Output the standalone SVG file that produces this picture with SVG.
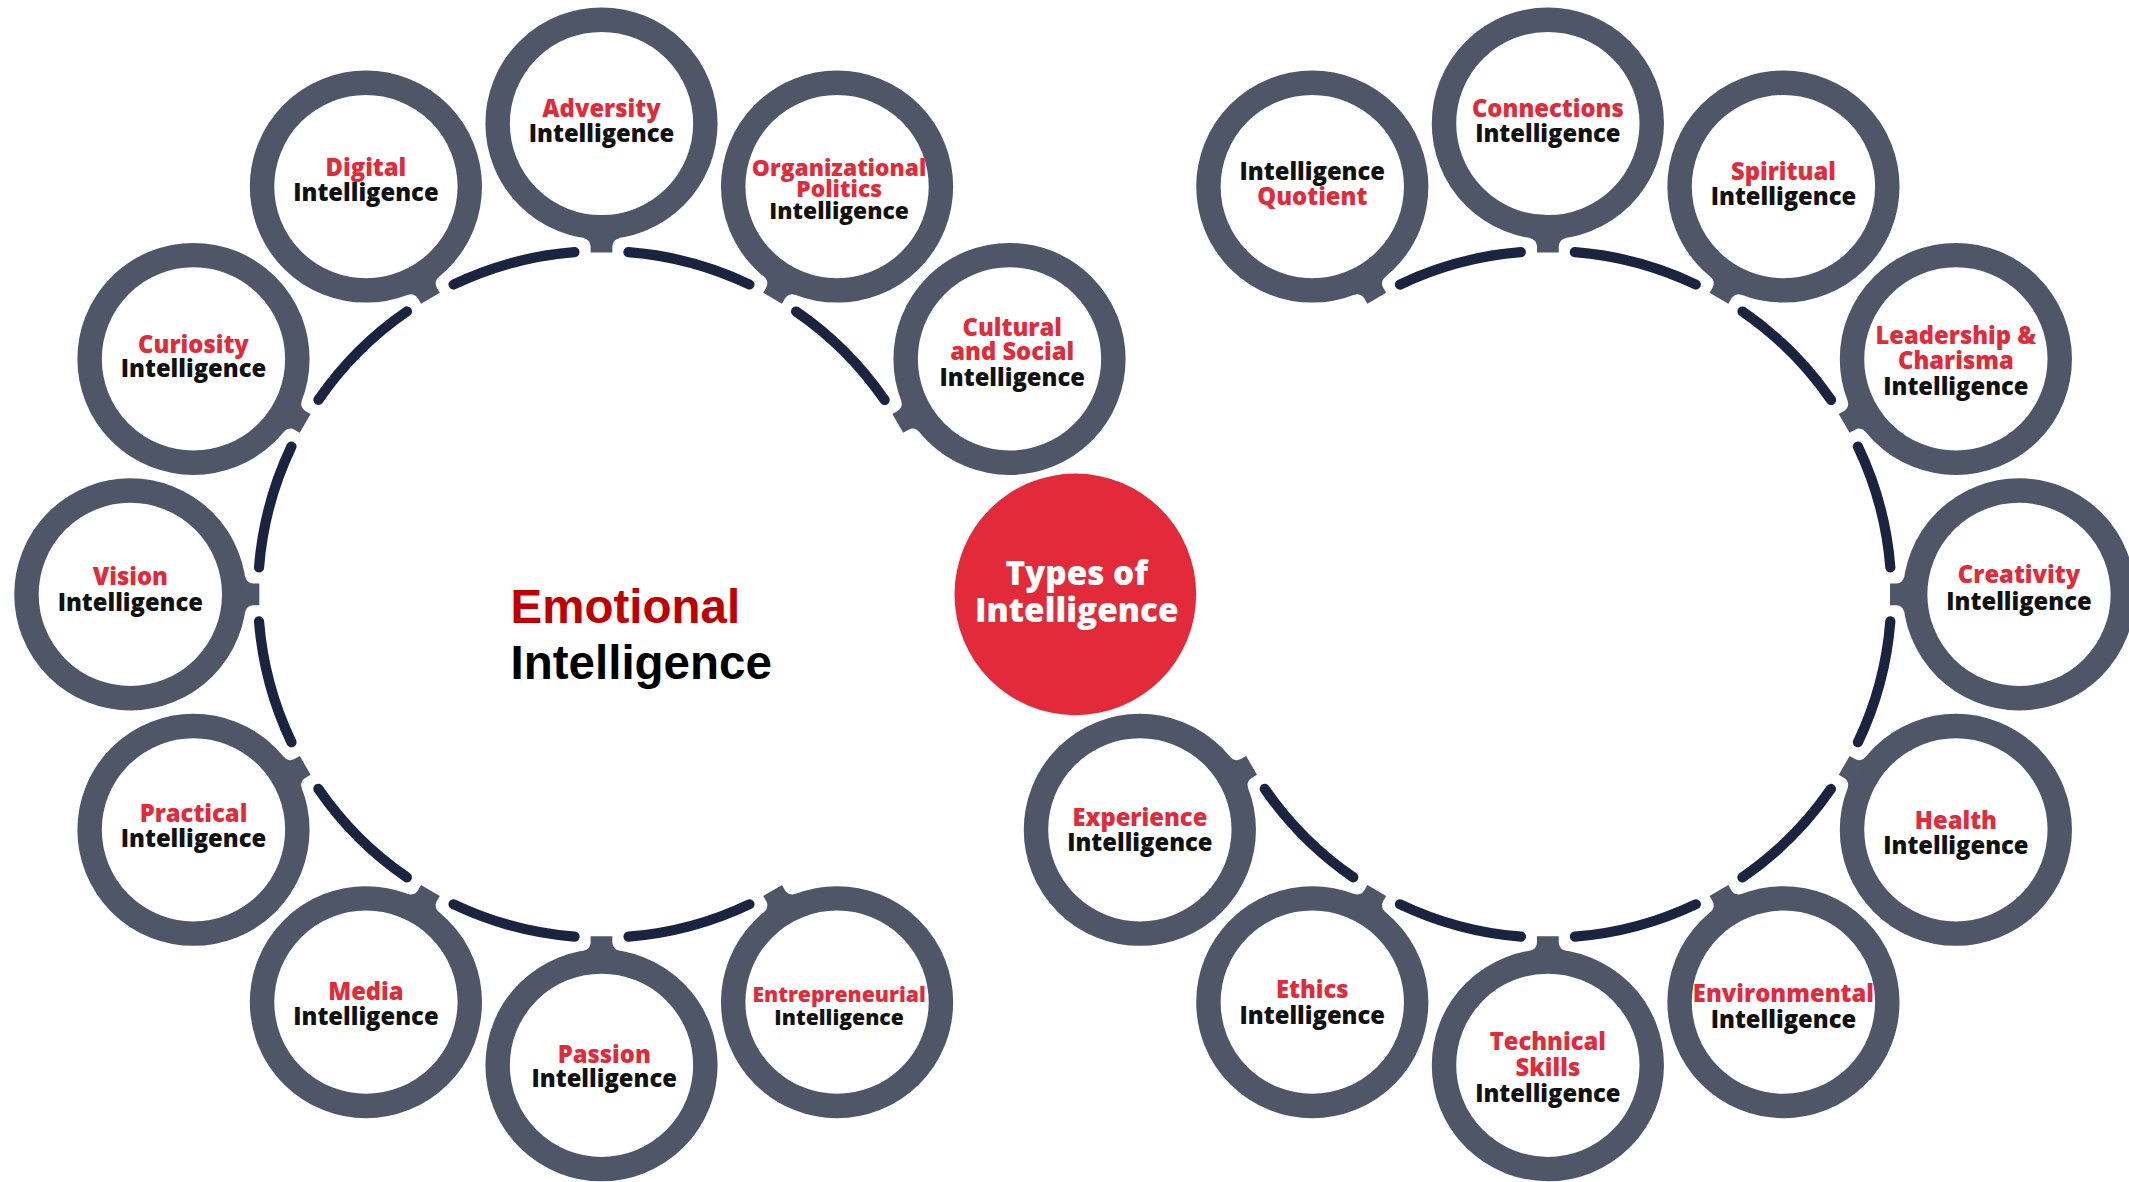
<svg xmlns="http://www.w3.org/2000/svg" xmlns:xlink="http://www.w3.org/1999/xlink" width="2129" height="1182" viewBox="0 0 2129 1182">
<style>
.ring{fill:#fff;stroke:#4e5668;stroke-width:18}
.tab{fill:#4e5668}
.arc{fill:none;stroke:#1a2440;stroke-width:7.5;stroke-linecap:round;stroke-dasharray:21 9;stroke-dashoffset:-4.5}
.t{font-family:'Open Sans','Noto Sans',sans-serif;font-weight:800;font-size:17.5px;text-anchor:middle}
.s{font-size:16.8px}
.xs{font-size:15.6px}
.r{fill:#e12a3a}
.k{fill:#111}
.big{font-family:'Liberation Sans',Arial,sans-serif;font-weight:700;font-size:35px}
</style>
<defs>
<path id="tab" class="tab" d="M84.5,-13.1 A6 6 0 0 0 90.4,-8 L95,-8 L95,8 L90.4,8 A6 6 0 0 0 84.5,13.1 L80,0 Z"/>
</defs>
<rect width="2129" height="1182" fill="#fff"/>
<g transform="scale(1.35778 1.35706)">
<g id="connectors">
<path class="arc" pathLength="270" d="M662.1,311.5 A253 253 0 1 0 569.5,657.1"/>
<path class="arc" pathLength="270" d="M920.9,564.5 A253 253 0 1 0 1013.5,218.9"/>
</g>
<g id="center">
<circle cx="792" cy="438" r="89" fill="#e32a3a"/>
<text class="t" x="793" y="431" fill="#fff" style="font-size:24.5px">Types of</text>
<text class="t" x="793" y="458" fill="#fff" style="font-size:24.5px">Intelligence</text>
</g>
<g id="title">
<text class="big" x="376" y="459" fill="#c00000">Emotional</text>
<text class="big" x="376" y="500" fill="#000">Intelligence</text>
</g>
<!-- left cluster -->
<g id="n-cultural" transform="translate(743.5,264.5)"><circle class="ring" r="76.5"/><use xlink:href="#tab" transform="rotate(150)"/>
<text class="t r" x="2" y="-17">Cultural</text><text class="t r" x="2" y="1">and Social</text><text class="t k" x="2" y="20.2">Intelligence</text></g>
<g id="n-org" transform="translate(616.5,137.5)"><circle class="ring" r="76.5"/><use xlink:href="#tab" transform="rotate(120)"/>
<text class="t r s" x="1.5" y="-7.9">Organizational</text><text class="t r s" x="1.5" y="7.7">Politics</text><text class="t k s" x="1.5" y="23.7">Intelligence</text></g>
<g id="n-adversity" transform="translate(443,91)"><circle class="ring" r="76.5"/><use xlink:href="#tab" transform="rotate(90)"/>
<text class="t r" y="-5">Adversity</text><text class="t k" y="13.8">Intelligence</text></g>
<g id="n-digital" transform="translate(269.5,137.5)"><circle class="ring" r="76.5"/><use xlink:href="#tab" transform="rotate(60)"/>
<text class="t r" y="-7.9">Digital</text><text class="t k" y="10.5">Intelligence</text></g>
<g id="n-curiosity" transform="translate(142.5,264.5)"><circle class="ring" r="76.5"/><use xlink:href="#tab" transform="rotate(30)"/>
<text class="t r" y="-4.7">Curiosity</text><text class="t k" y="13.1">Intelligence</text></g>
<g id="n-vision" transform="translate(96,438)"><circle class="ring" r="76.5"/><use xlink:href="#tab"/>
<text class="t r" y="-7.2">Vision</text><text class="t k" y="12.5">Intelligence</text></g>
<g id="n-practical" transform="translate(142.5,611.5)"><circle class="ring" r="76.5"/><use xlink:href="#tab" transform="rotate(-30)"/>
<text class="t r" y="-5.6">Practical</text><text class="t k" y="12.8">Intelligence</text></g>
<g id="n-media" transform="translate(269.5,738.5)"><circle class="ring" r="76.5"/><use xlink:href="#tab" transform="rotate(-60)"/>
<text class="t r" y="-1.7">Media</text><text class="t k" y="16.5">Intelligence</text></g>
<g id="n-passion" transform="translate(443,785)"><circle class="ring" r="76.5"/><use xlink:href="#tab" transform="rotate(-90)"/>
<text class="t r" x="2" y="-2">Passion</text><text class="t k" x="2" y="16">Intelligence</text></g>
<g id="n-entrepreneurial" transform="translate(616.5,738.5)"><circle class="ring" r="76.5"/><use xlink:href="#tab" transform="rotate(-120)"/>
<text class="t r xs" x="1.5" y="-0.3">Entrepreneurial</text><text class="t k xs" x="1.5" y="16.6">Intelligence</text></g>
<!-- right cluster -->
<g id="n-iq" transform="translate(966.5,137.5)"><circle class="ring" r="76.5"/><use xlink:href="#tab" transform="rotate(60)"/>
<text class="t k" y="-5">Intelligence</text><text class="t r" y="13.3">Quotient</text></g>
<g id="n-connections" transform="translate(1140,91)"><circle class="ring" r="76.5"/><use xlink:href="#tab" transform="rotate(90)"/>
<text class="t r" y="-5">Connections</text><text class="t k" y="13.8">Intelligence</text></g>
<g id="n-spiritual" transform="translate(1313.5,137.5)"><circle class="ring" r="76.5"/><use xlink:href="#tab" transform="rotate(120)"/>
<text class="t r" y="-5">Spiritual</text><text class="t k" y="13.9">Intelligence</text></g>
<g id="n-leadership" transform="translate(1440.5,264.5)"><circle class="ring" r="76.5"/><use xlink:href="#tab" transform="rotate(150)"/>
<text class="t r" y="-10.8">Leadership &amp;</text><text class="t r" y="7.5">Charisma</text><text class="t k" y="26.7">Intelligence</text></g>
<g id="n-creativity" transform="translate(1487,438)"><circle class="ring" r="76.5"/><use xlink:href="#tab" transform="rotate(180)"/>
<text class="t r" y="-8.3">Creativity</text><text class="t k" y="11.4">Intelligence</text></g>
<g id="n-health" transform="translate(1440.5,611.5)"><circle class="ring" r="76.5"/><use xlink:href="#tab" transform="rotate(210)"/>
<text class="t r" y="-0.4">Health</text><text class="t k" y="18">Intelligence</text></g>
<g id="n-environmental" transform="translate(1313.5,738.5)"><circle class="ring" r="76.5"/><use xlink:href="#tab" transform="rotate(240)"/>
<text class="t r" y="-0.1">Environmental</text><text class="t k" y="19.1">Intelligence</text></g>
<g id="n-technical" transform="translate(1140,785)"><circle class="ring" r="76.5"/><use xlink:href="#tab" transform="rotate(270)"/>
<text class="t r" y="-11.2">Technical</text><text class="t r" y="8">Skills</text><text class="t k" y="26.9">Intelligence</text></g>
<g id="n-ethics" transform="translate(966.5,738.5)"><circle class="ring" r="76.5"/><use xlink:href="#tab" transform="rotate(300)"/>
<text class="t r" y="-2.9">Ethics</text><text class="t k" y="16">Intelligence</text></g>
<g id="n-experience" transform="translate(839.5,611.5)"><circle class="ring" r="76.5"/><use xlink:href="#tab" transform="rotate(330)"/>
<text class="t r" y="-3.2">Experience</text><text class="t k" y="15.7">Intelligence</text></g>
</g>
</svg>
